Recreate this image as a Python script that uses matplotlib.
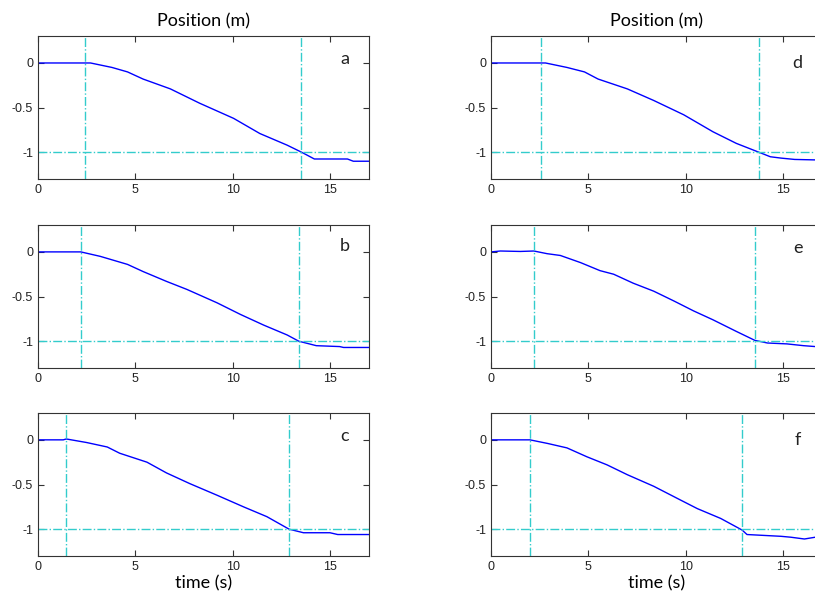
import numpy as np
import matplotlib
matplotlib.use('Agg')
import matplotlib.pyplot as plt

plt.rcParams['axes.unicode_minus'] = False

# position traces (time in s, position in m)
t_a = [0, 2.4, 2.7, 3.8, 4.6, 5.4, 6.8, 8.3, 10.05, 11.4, 12.8, 13.55, 14.2, 15.9, 16.2, 17]
p_a = [0, 0, 0, -0.05, -0.1, -0.18, -0.29, -0.45, -0.62, -0.79, -0.92, -1.0, -1.075, -1.075, -1.1, -1.1]

t_b = [0, 2.2, 3.2, 4.6, 5.4, 6.6, 7.65, 9.2, 10.4, 11.6, 12.8, 13.4, 14.3, 15.5, 15.7, 17]
p_b = [0, 0, -0.05, -0.14, -0.22, -0.33, -0.42, -0.57, -0.70, -0.82, -0.93, -1.0, -1.05, -1.06, -1.07, -1.07]

t_c = [0, 1.3, 1.45, 2.5, 3.56, 4.2, 5.6, 6.6, 7.8, 9.2, 10.56, 11.76, 12.9, 13.64, 15.0, 15.4, 17]
p_c = [0, 0, 0.01, -0.03, -0.08, -0.15, -0.25, -0.37, -0.49, -0.62, -0.75, -0.86, -1.0, -1.04, -1.04, -1.06, -1.06]

t_d = [0, 2.6, 2.8, 3.9, 4.8, 5.5, 7.0, 8.36, 9.9, 11.4, 12.6, 13.77, 14.35, 14.9, 15.6, 16.6, 17]
p_d = [0, 0, 0, -0.05, -0.1, -0.18, -0.29, -0.42, -0.58, -0.77, -0.9, -1.0, -1.05, -1.065, -1.08, -1.085, -1.085]

t_e = [0, 0.48, 1.5, 2.2, 2.88, 3.56, 4.6, 5.6, 6.3, 7.3, 8.36, 9.4, 10.4, 11.4, 12.6, 13.55, 14.2, 15.2, 16.06, 16.66, 17]
p_e = [0, 0.01, 0.005, 0.01, -0.02, -0.04, -0.12, -0.21, -0.25, -0.35, -0.44, -0.55, -0.66, -0.76, -0.89, -0.99, -1.02, -1.03, -1.05, -1.06, -1.065]

t_f = [0, 2.0, 2.9, 3.9, 4.93, 5.96, 7.0, 8.36, 9.7, 10.6, 11.8, 12.9, 13.15, 14.9, 15.4, 16.1, 16.66, 17]
p_f = [0, 0, -0.04, -0.09, -0.19, -0.28, -0.39, -0.52, -0.67, -0.77, -0.88, -1.01, -1.06, -1.08, -1.09, -1.11, -1.09, -1.09]

# vertical marker times (start / end of motion) per panel
t_start = [2.4, 2.22, 1.44, 2.57, 2.23, 1.99]
t_end = [13.5, 13.42, 12.9, 13.77, 13.55, 12.9]
labels = ['a', 'b', 'c', 'd', 'e', 'f']
times = [t_a, t_b, t_c, t_d, t_e, t_f]
positions = [p_a, p_b, p_c, p_d, p_e, p_f]
target = -1

fig = plt.figure(figsize=(8.15, 6.03), dpi=100)

lefts = [0.0466, 0.6025]
bottoms = [0.703, 0.3897, 0.078]
w, h = 0.406, 0.237
label_y = [0.05, 0.07, 0.04, 0.0, 0.04, 0.0]

for k in range(6):
    col, row = k // 3, k % 3
    ax = fig.add_axes([lefts[col], bottoms[row], w, h])
    ax.plot(times[k], positions[k], color='#0000ff', lw=1)
    ax.axvline(t_start[k], color='#33cccc', ls='-.', lw=1)
    ax.axvline(t_end[k], color='#33cccc', ls='-.', lw=1)
    ax.axhline(target, color='#33cccc', ls='-.', lw=1)
    ax.set_xlim(0, 17)
    ax.set_ylim(-1.3, 0.3)
    ax.set_xticks([0, 5, 10, 15])
    ax.set_yticks([0, -0.5, -1])
    ax.set_yticklabels(['0', '-0.5', '-1'])
    ax.tick_params(direction='in', top=True, right=True, length=4,
                   labelsize=9, colors='#333333', labelcolor='#222222')
    for s in ax.spines.values():
        s.set_color('#333333')
        s.set_linewidth(0.8)
    for lab in ax.get_xticklabels() + ax.get_yticklabels():
        lab.set_family('Liberation Sans')
    ax.text(15.75, label_y[k], labels[k], fontsize=13, family='Lato',
            ha='center', va='center', color='#222222')
    if row == 0:
        ax.set_title('Position (m)', fontsize=13, family='Lato', pad=7)
    if row == 2:
        ax.set_xlabel('time (s)', fontsize=13, family='Lato', labelpad=2)

fig.savefig('out.png', dpi=100)
